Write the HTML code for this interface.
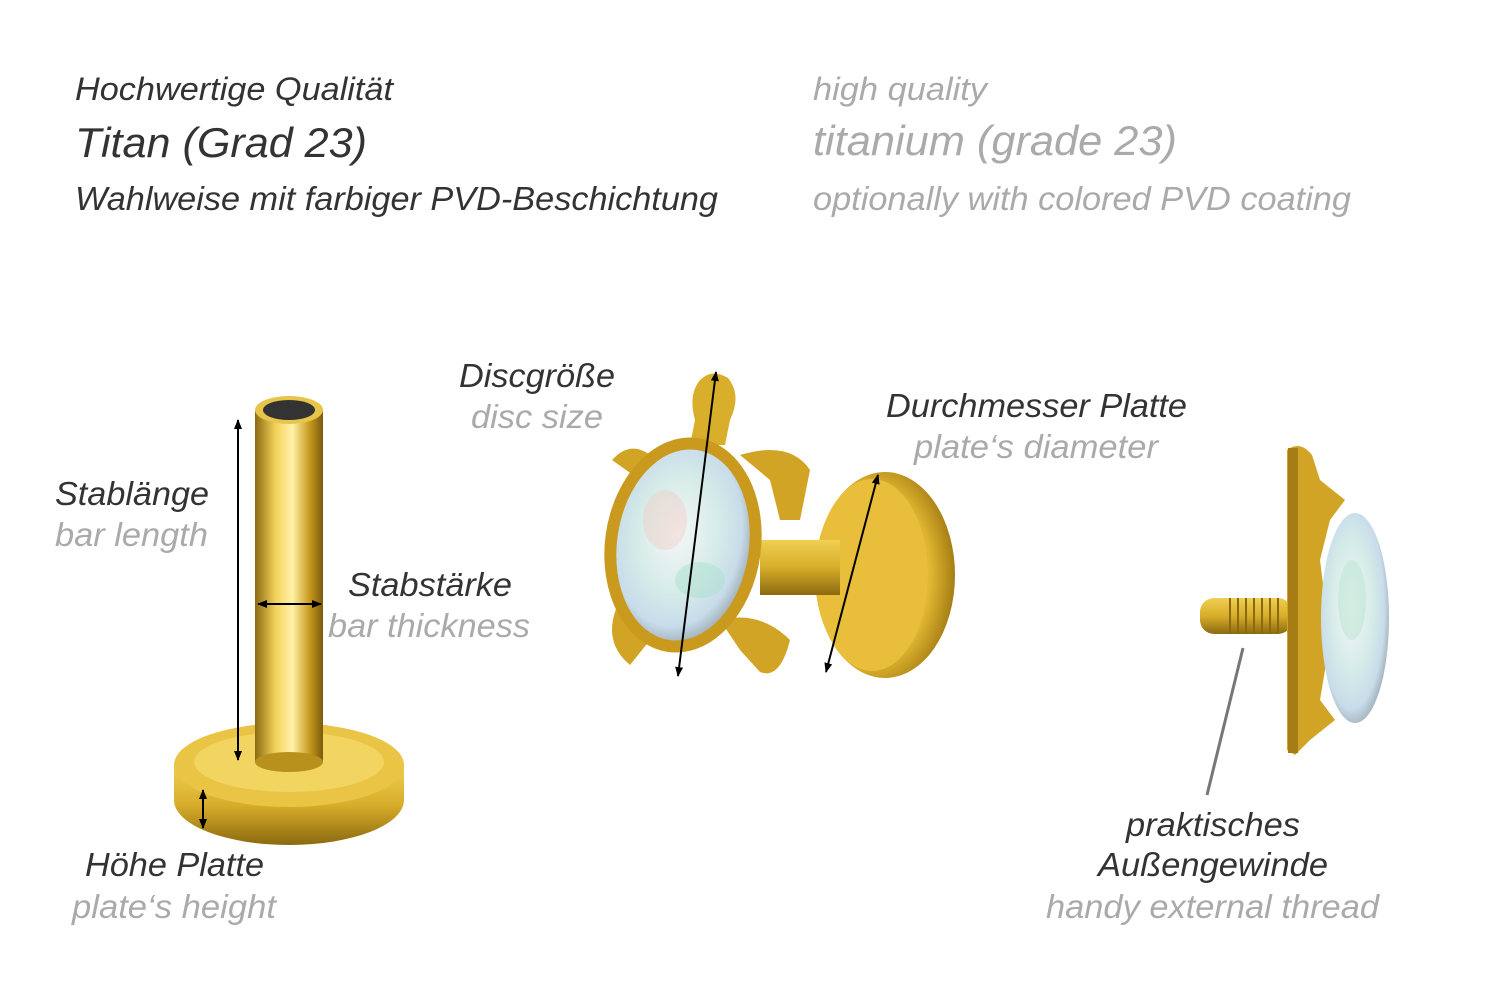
<!DOCTYPE html>
<html><head><meta charset="utf-8"><style>
html,body{margin:0;padding:0;background:#fff;}
svg{display:block;}
text{font-family:"Liberation Sans",sans-serif;font-style:italic;}
.d{fill:#333;}
.g{fill:#aaa;}
</style></head><body>
<svg width="1500" height="1001" viewBox="0 0 1500 1001" xmlns="http://www.w3.org/2000/svg">
<defs>
<linearGradient id="bar" x1="0" x2="1" y1="0" y2="0">
<stop offset="0" stop-color="#8a6a10"/><stop offset="0.3" stop-color="#f3d25a"/><stop offset="0.55" stop-color="#fff2a8"/><stop offset="0.8" stop-color="#c99a1e"/><stop offset="1" stop-color="#7a5a0c"/></linearGradient>
<linearGradient id="plate" x1="0" x2="0" y1="0" y2="1">
<stop offset="0" stop-color="#f0cf52"/><stop offset="0.5" stop-color="#d8ad2a"/><stop offset="1" stop-color="#8b6a10"/></linearGradient>
<radialGradient id="disc" cx="0.4" cy="0.5" r="0.6">
<stop offset="0" stop-color="#f6dc6a"/><stop offset="0.7" stop-color="#e2b832"/><stop offset="1" stop-color="#a57d14"/></radialGradient>
<radialGradient id="opal" cx="0.45" cy="0.45" r="0.6">
<stop offset="0" stop-color="#f4f6f8"/><stop offset="0.5" stop-color="#d6ece8"/><stop offset="0.8" stop-color="#c8dcea"/><stop offset="1" stop-color="#9aa8b0"/></radialGradient>
<marker id="ah" markerWidth="10" markerHeight="10" refX="9" refY="5" orient="auto-start-reverse" markerUnits="userSpaceOnUse">
<path d="M0,1 L10,5 L0,9 z" fill="#000"/></marker>
</defs>

<g lengthAdjust="spacingAndGlyphs">
<text x="75" y="100" font-size="32" class="d" textLength="318" lengthAdjust="spacingAndGlyphs">Hochwertige Qualität</text>
<text x="75" y="157" font-size="42" class="d" textLength="292" lengthAdjust="spacingAndGlyphs">Titan (Grad 23)</text>
<text x="75" y="210" font-size="33" class="d" textLength="643" lengthAdjust="spacingAndGlyphs">Wahlweise mit farbiger PVD-Beschichtung</text>
<text x="813" y="100" font-size="32" class="g" textLength="174" lengthAdjust="spacingAndGlyphs">high quality</text>
<text x="813" y="155" font-size="42" class="g" textLength="364" lengthAdjust="spacingAndGlyphs">titanium (grade 23)</text>
<text x="813" y="210" font-size="33" class="g" textLength="538" lengthAdjust="spacingAndGlyphs">optionally with colored PVD coating</text>
</g>

<!-- left pin -->
<path d="M174,765 L174,800 A115,45 0 0 0 404,800 L404,765 z" fill="url(#plate)"/>
<ellipse cx="289" cy="765" rx="115" ry="42" fill="#e9c445"/>
<ellipse cx="289" cy="762" rx="95" ry="30" fill="#f2d460"/>
<rect x="255" y="410" width="68" height="352" fill="url(#bar)"/>
<ellipse cx="289" cy="762" rx="34" ry="10" fill="#b8901c"/>
<ellipse cx="289" cy="410" rx="34" ry="14" fill="#e7c44a"/>
<ellipse cx="289" cy="410" rx="26" ry="10" fill="#333"/>
<line x1="238" y1="420" x2="238" y2="760" stroke="#000" stroke-width="2" marker-start="url(#ah)" marker-end="url(#ah)"/>
<line x1="258" y1="604" x2="321" y2="604" stroke="#000" stroke-width="2" marker-start="url(#ah)" marker-end="url(#ah)"/>
<line x1="203" y1="790" x2="203" y2="828" stroke="#000" stroke-width="2" marker-start="url(#ah)" marker-end="url(#ah)"/>

<text x="55" y="505" font-size="33" class="d" textLength="154" lengthAdjust="spacingAndGlyphs">Stablänge</text>
<text x="55" y="546" font-size="33" class="g" textLength="153" lengthAdjust="spacingAndGlyphs">bar length</text>
<text x="348" y="596" font-size="33" class="d" textLength="164" lengthAdjust="spacingAndGlyphs">Stabstärke</text>
<text x="328" y="637" font-size="33" class="g" textLength="202" lengthAdjust="spacingAndGlyphs">bar thickness</text>
<text x="85" y="876" font-size="33" class="d" textLength="179" lengthAdjust="spacingAndGlyphs">Höhe Platte</text>
<text x="72" y="918" font-size="33" class="g" textLength="204" lengthAdjust="spacingAndGlyphs">plate‘s height</text>

<!-- turtle -->
<ellipse cx="885" cy="575" rx="70" ry="103" fill="url(#disc)"/>
<ellipse cx="872" cy="575" rx="56" ry="96" fill="#e8be3a"/>
<rect x="760" y="540" width="80" height="55" fill="url(#plate)"/>
<path d="M700,380 Q712,368 728,378 Q742,395 730,420 L725,445 L690,445 L695,420 Q688,395 700,380 z" fill="#d9ae2a"/>
<path d="M612,460 Q630,440 650,455 L640,480 z M740,455 Q790,440 810,470 L800,520 L780,520 L770,480 z M620,600 Q600,640 630,665 L650,640 z M720,620 Q760,610 790,640 Q780,680 760,672 L740,650 z" fill="#d2a425"/>
<ellipse cx="683" cy="545" rx="78" ry="108" fill="#c99a1e" transform="rotate(8 683 545)"/>
<ellipse cx="683" cy="545" rx="66" ry="96" fill="url(#opal)" transform="rotate(8 683 545)"/>
<ellipse cx="665" cy="520" rx="22" ry="30" fill="#f3c8c0" opacity="0.4"/>
<ellipse cx="700" cy="580" rx="25" ry="18" fill="#a9e0d0" opacity="0.5"/>
<line x1="716" y1="372" x2="678" y2="676" stroke="#000" stroke-width="2" marker-start="url(#ah)" marker-end="url(#ah)"/>
<line x1="878" y1="475" x2="826" y2="672" stroke="#000" stroke-width="2" marker-start="url(#ah)" marker-end="url(#ah)"/>
<text x="459" y="387" font-size="33" class="d" textLength="156" lengthAdjust="spacingAndGlyphs">Discgröße</text>
<text x="471" y="428" font-size="33" class="g" textLength="132" lengthAdjust="spacingAndGlyphs">disc size</text>
<text x="886" y="417" font-size="33" class="d" textLength="301" lengthAdjust="spacingAndGlyphs">Durchmesser Platte</text>
<text x="914" y="458" font-size="33" class="g" textLength="244" lengthAdjust="spacingAndGlyphs">plate‘s diameter</text>

<!-- right side view -->
<rect x="1200" y="598" width="92" height="36" rx="14" fill="url(#plate)"/>
<g stroke="#8a6a10" stroke-width="2">
<line x1="1230" y1="598" x2="1230" y2="634"/><line x1="1238" y1="598" x2="1238" y2="634"/><line x1="1246" y1="598" x2="1246" y2="634"/><line x1="1254" y1="598" x2="1254" y2="634"/><line x1="1262" y1="598" x2="1262" y2="634"/><line x1="1270" y1="598" x2="1270" y2="634"/><line x1="1278" y1="598" x2="1278" y2="634"/></g>
<path d="M1287,450 Q1300,440 1312,455 L1320,480 L1345,500 L1330,520 L1320,560 L1330,640 L1320,700 L1335,720 L1310,740 L1295,755 L1287,750 z" fill="#d2a425"/>
<rect x="1288" y="448" width="10" height="305" fill="#a57d14"/>
<ellipse cx="1355" cy="618" rx="34" ry="105" fill="url(#opal)"/>
<ellipse cx="1352" cy="600" rx="14" ry="40" fill="#bfe6d6" opacity="0.6"/>
<line x1="1243" y1="648" x2="1207" y2="795" stroke="#777" stroke-width="3"/>
<text x="1126" y="836" font-size="33" class="d" textLength="174" lengthAdjust="spacingAndGlyphs">praktisches</text>
<text x="1098" y="876" font-size="33" class="d" textLength="230" lengthAdjust="spacingAndGlyphs">Außengewinde</text>
<text x="1046" y="918" font-size="33" class="g" textLength="333" lengthAdjust="spacingAndGlyphs">handy external thread</text>
</svg>
</body></html>
